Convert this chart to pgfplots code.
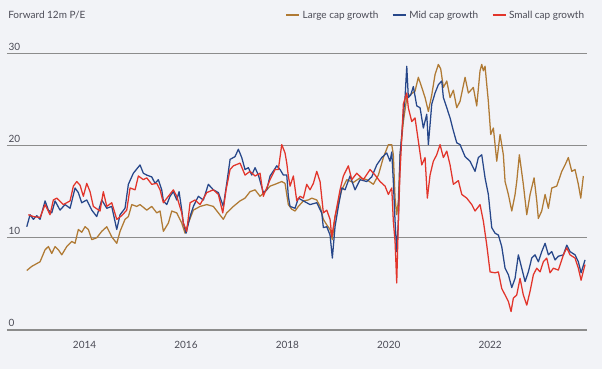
\documentclass[border=0pt]{standalone}
\usepackage{fontspec}
\setmainfont{Lato}
\usepackage{pgfplots}
\usepackage{pgfplotstable}
\pgfplotsset{compat=1.18}
\definecolor{bgc}{HTML}{F2F3F7}
\definecolor{largec}{HTML}{B07A34}
\definecolor{midc}{HTML}{27478A}
\definecolor{smallc}{HTML}{E2352B}
\definecolor{gridc}{HTML}{8C8C8C}
\definecolor{txtc}{HTML}{4A4A55}

\pgfplotstableread{
t v
2012.860 6.45
2012.958 6.9
2013.122 7.4
2013.221 8.7
2013.286 9.05
2013.353 8.3
2013.418 9.05
2013.483 8.7
2013.550 8.15
2013.649 9.05
2013.747 9.6
2013.812 9.4
2013.877 10.9
2013.944 10.6
2014.010 11.2
2014.075 10.9
2014.142 9.8
2014.240 10.0
2014.339 10.7
2014.438 11.2
2014.536 10.1
2014.635 9.4
2014.700 10.7
2014.798 12.0
2014.864 12.3
2014.931 13.6
2015.029 13.4
2015.094 13.6
2015.226 13.0
2015.325 13.4
2015.424 12.7
2015.489 12.9
2015.554 10.7
2015.653 11.6
2015.720 12.9
2015.818 12.7
2015.917 11.6
2015.982 10.5
2016.047 11.6
2016.146 13.0
2016.278 13.4
2016.410 13.6
2016.540 13.4
2016.639 12.7
2016.737 12.0
2016.804 12.7
2016.935 13.4
2017.067 14.0
2017.165 14.3
2017.264 15.0
2017.363 15.2
2017.461 14.5
2017.560 15.0
2017.658 15.6
2017.757 15.8
2017.889 16.1
2017.954 15.9
2018.019 13.6
2018.086 13.1
2018.152 12.9
2018.217 13.4
2018.315 14.0
2018.414 14.1
2018.481 14.3
2018.579 14.1
2018.645 13.4
2018.710 12.0
2018.777 11.4
2018.842 10.9
2018.887 9.8
2018.940 12.3
2019.006 13.8
2019.073 15.2
2019.171 16.3
2019.301 16.0
2019.434 16.5
2019.566 16.3
2019.696 15.8
2019.795 16.8
2019.893 18.7
2019.992 20.1
2020.059 20.1
2020.090 19.0
2020.124 14.3
2020.157 12.5
2020.189 14.0
2020.223 19.0
2020.288 22.6
2020.355 25.2
2020.420 25.5
2020.518 25.9
2020.583 27.4
2020.651 26.3
2020.716 25.2
2020.781 23.7
2020.848 25.5
2020.913 27.7
2020.978 28.8
2021.025 28.3
2021.077 26.3
2021.144 27.0
2021.209 25.2
2021.274 26.0
2021.341 24.1
2021.406 24.8
2021.505 27.4
2021.570 25.7
2021.668 26.3
2021.735 24.3
2021.800 28.1
2021.834 28.8
2021.866 28.1
2021.899 28.6
2021.933 26.6
2021.964 24.8
2022.011 21.2
2022.063 21.9
2022.130 18.3
2022.195 21.2
2022.260 19.0
2022.294 16.1
2022.359 14.7
2022.426 12.9
2022.491 14.7
2022.524 16.1
2022.576 19.0
2022.654 15.8
2022.722 12.5
2022.787 14.7
2022.866 16.5
2022.919 14.0
2022.950 12.1
2023.017 12.9
2023.083 14.7
2023.148 13.2
2023.215 15.4
2023.313 15.6
2023.412 17.2
2023.477 17.9
2023.542 18.7
2023.609 17.2
2023.674 17.4
2023.739 15.8
2023.787 14.3
2023.838 16.7
}\largecap

\pgfplotstableread{
t v
2012.860 11.2
2012.925 12.5
2012.990 12.0
2013.057 12.4
2013.122 12.0
2013.221 14.0
2013.286 13.0
2013.353 12.7
2013.418 14.0
2013.516 13.0
2013.615 13.6
2013.714 13.2
2013.812 15.4
2013.877 14.9
2013.944 13.8
2014.043 14.1
2014.142 13.0
2014.240 12.3
2014.339 14.1
2014.438 13.2
2014.536 13.4
2014.635 10.9
2014.700 12.5
2014.798 13.2
2014.864 15.8
2014.962 17.0
2015.094 17.9
2015.159 17.0
2015.226 16.8
2015.325 16.6
2015.390 15.9
2015.455 16.3
2015.522 15.2
2015.554 14.0
2015.621 13.6
2015.686 14.5
2015.751 15.0
2015.818 14.1
2015.864 15.0
2015.917 13.0
2015.948 11.6
2016.002 10.5
2016.081 12.3
2016.146 13.4
2016.244 14.5
2016.343 14.1
2016.441 15.8
2016.540 15.2
2016.639 14.9
2016.737 13.4
2016.804 15.9
2016.870 18.5
2016.968 18.8
2017.033 19.6
2017.100 18.7
2017.165 17.4
2017.231 17.6
2017.297 16.8
2017.363 17.6
2017.428 16.8
2017.526 14.9
2017.593 15.2
2017.658 16.7
2017.791 17.8
2017.856 17.4
2017.921 16.8
2017.988 16.8
2018.019 14.5
2018.053 13.4
2018.152 13.2
2018.217 14.3
2018.349 13.9
2018.447 13.6
2018.579 13.8
2018.678 12.7
2018.710 11.1
2018.777 11.2
2018.842 10.3
2018.887 7.8
2018.940 11.2
2019.006 13.4
2019.073 15.4
2019.138 15.2
2019.236 16.7
2019.335 15.2
2019.434 16.3
2019.566 16.1
2019.664 16.6
2019.763 17.9
2019.862 18.7
2019.960 19.2
2020.025 18.3
2020.059 19.3
2020.090 16.1
2020.124 11.8
2020.157 8.5
2020.189 11.8
2020.223 19.0
2020.256 21.2
2020.288 23.4
2020.321 25.2
2020.355 28.6
2020.386 25.2
2020.434 25.5
2020.485 26.4
2020.552 24.3
2020.617 24.1
2020.682 21.9
2020.749 23.4
2020.781 20.1
2020.848 24.5
2020.913 25.7
2020.978 26.6
2021.045 27.0
2021.077 25.2
2021.144 24.1
2021.209 23.0
2021.274 21.6
2021.341 20.3
2021.406 20.1
2021.505 18.8
2021.603 18.3
2021.702 17.2
2021.767 18.7
2021.834 19.0
2021.899 16.5
2021.964 14.7
2022.031 11.1
2022.096 10.5
2022.162 10.3
2022.228 9.05
2022.294 6.7
2022.359 6.0
2022.426 4.6
2022.491 5.6
2022.556 8.15
2022.623 6.7
2022.688 5.25
2022.753 6.3
2022.820 7.8
2022.885 8.15
2022.950 7.4
2023.017 8.5
2023.083 9.4
2023.148 8.15
2023.215 8.5
2023.280 7.6
2023.345 8.0
2023.444 8.15
2023.511 9.2
2023.576 8.5
2023.674 8.15
2023.739 7.4
2023.793 6.2
2023.871 7.6
}\midcap

\pgfplotstableread{
t v
2012.891 12.5
2012.990 12.3
2013.122 12.2
2013.221 13.6
2013.319 12.5
2013.384 14.1
2013.451 14.3
2013.582 13.6
2013.714 14.0
2013.779 15.6
2013.846 16.1
2013.911 15.7
2013.976 14.5
2014.043 15.9
2014.108 15.0
2014.173 13.4
2014.305 12.9
2014.370 15.0
2014.438 13.4
2014.536 13.8
2014.635 12.0
2014.733 12.4
2014.832 13.0
2014.897 15.4
2014.996 15.2
2015.061 16.7
2015.159 16.3
2015.226 16.5
2015.325 15.8
2015.424 15.9
2015.489 15.2
2015.554 13.8
2015.653 14.5
2015.751 15.2
2015.818 14.5
2015.917 12.7
2015.948 11.6
2016.015 10.7
2016.081 13.8
2016.179 14.1
2016.278 13.6
2016.410 14.9
2016.540 15.2
2016.639 14.7
2016.726 12.7
2016.791 15.2
2016.870 17.4
2016.935 17.8
2017.067 18.1
2017.165 16.8
2017.264 17.2
2017.363 16.7
2017.461 17.0
2017.526 14.5
2017.658 16.3
2017.757 17.4
2017.822 17.4
2017.889 20.1
2017.954 19.2
2017.988 18.1
2018.019 16.7
2018.053 15.6
2018.118 16.7
2018.185 14.0
2018.250 14.5
2018.315 14.3
2018.382 15.8
2018.447 15.2
2018.513 15.9
2018.579 17.2
2018.645 16.1
2018.710 12.7
2018.777 13.0
2018.842 12.0
2018.876 10.1
2018.940 12.3
2019.039 15.2
2019.104 16.7
2019.203 17.8
2019.270 16.3
2019.369 17.0
2019.499 16.3
2019.631 17.4
2019.730 16.8
2019.828 16.1
2019.927 15.6
2019.992 14.7
2020.059 15.4
2020.090 11.8
2020.124 9.6
2020.157 5.1
2020.189 11.8
2020.223 17.2
2020.256 20.8
2020.288 24.5
2020.355 25.7
2020.386 24.1
2020.453 22.6
2020.518 23.0
2020.583 20.5
2020.651 17.9
2020.716 18.7
2020.761 14.3
2020.814 16.8
2020.879 18.3
2020.946 19.0
2021.012 20.1
2021.077 18.7
2021.144 19.4
2021.209 17.9
2021.274 15.8
2021.373 16.2
2021.440 14.7
2021.538 14.3
2021.637 13.6
2021.702 12.9
2021.800 13.6
2021.866 11.8
2021.933 9.2
2021.998 6.3
2022.096 6.2
2022.162 6.3
2022.228 4.5
2022.294 3.8
2022.359 3.1
2022.412 2.0
2022.457 3.45
2022.524 3.8
2022.589 5.6
2022.654 3.8
2022.722 2.7
2022.787 4.2
2022.852 6.0
2022.919 6.7
2022.984 6.3
2023.049 7.4
2023.116 7.8
2023.181 6.2
2023.246 6.7
2023.345 6.5
2023.444 8.15
2023.511 8.9
2023.576 8.15
2023.674 7.8
2023.739 6.7
2023.793 5.4
2023.871 7.1
}\smallcap

\begin{document}
\begin{tikzpicture}
\fill[bgc] (0,0) rectangle (451.5pt,276.75pt);
\node[anchor=west, inner sep=0pt, text=txtc, font=\fontsize{7.5}{9}\selectfont] at (6pt,265.5pt) {Forward 12m P/E};
\begin{axis}[
  at={(5.25pt,29.25pt)}, anchor=south west,
  scale only axis, width=435pt, height=207.5pt,
  xmin=2012.47, xmax=2023.91,
  ymin=0, ymax=30,
  xtick={2014,2016,2018,2020,2022},
  xticklabels={2014,2016,2018,2020,2022},
  ytick={0,10,20,30},
  /pgf/number format/assume math mode=true,
  axis line style={draw=none},
  major tick style={draw=none},
  ymajorgrids,
  grid style={gridc, line width=1pt},
  tick label style={text=txtc, font=\fontsize{7.5}{9}\selectfont},
  yticklabel style={anchor=south west, inner xsep=0pt, inner ysep=1pt, xshift=1pt, yshift=1pt},
  xticklabel style={yshift=-5pt},
  clip=false,
  legend columns=3,
  legend style={draw=none, fill=none, at={(1,1)}, anchor=east, yshift=28.5pt,
    font=\fontsize{7.5}{9}\selectfont,
    /tikz/every even column/.append style={column sep=8pt},
    inner sep=0pt},
  legend image code/.code={\draw[#1, line width=1.4pt] (0pt,0pt) -- (9.75pt,0pt);},
  every axis plot/.append style={line width=0.95pt, line join=round},
]
\addplot[color=largec, mark=none] table[x=t, y=v] {\largecap};
\addlegendentry{\textcolor{txtc}{Large cap growth}}
\addplot[color=midc, mark=none] table[x=t, y=v] {\midcap};
\addlegendentry{\textcolor{txtc}{Mid cap growth}}
\addplot[color=smallc, mark=none] table[x=t, y=v] {\smallcap};
\addlegendentry{\textcolor{txtc}{Small cap growth}}
\end{axis}
\pgfresetboundingbox
\useasboundingbox (0,0) rectangle (451.5pt,276.75pt);
\end{tikzpicture}
\end{document}
